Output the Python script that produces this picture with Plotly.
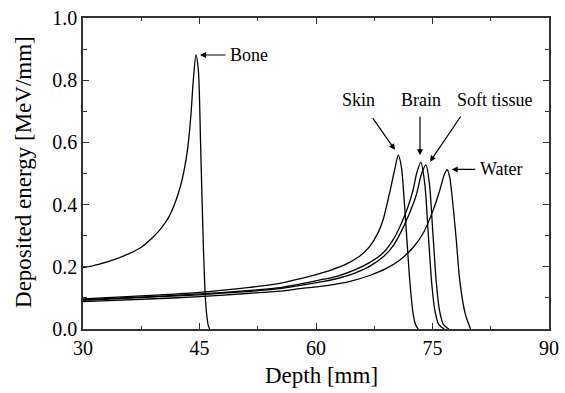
import plotly.graph_objects as go

# Data
bone_x = [30, 32, 34, 36, 37.5, 39, 40, 41, 41.8, 42.5, 43, 43.5, 43.9, 44.2, 44.55, 44.85, 45.15, 45.5, 45.8, 46.1, 46.3]
bone_y = [0.197, 0.208, 0.223, 0.243, 0.263, 0.295, 0.322, 0.358, 0.402, 0.455, 0.508, 0.585, 0.69, 0.8, 0.881, 0.833, 0.586, 0.265, 0.083, 0.015, 0.0]

skin_x = [30, 40, 45, 51.5, 55, 58, 60, 62, 64, 65.5, 66.9, 68, 68.65, 69.5, 70.15, 70.6, 71.0, 71.2, 71.65, 72.1, 72.5, 72.8, 73.15]
skin_y = [0.097, 0.11, 0.118, 0.134, 0.145, 0.162, 0.175, 0.19, 0.21, 0.232, 0.265, 0.31, 0.352, 0.44, 0.515, 0.559, 0.52, 0.468, 0.308, 0.147, 0.05, 0.015, 0.0]

brain_x = [30, 40, 45, 51.5, 55, 58, 61, 63, 65, 67, 68.65, 70, 70.8, 71.8, 72.5, 73.0, 73.5, 74.0, 74.45, 74.9, 75.3, 75.8, 76.5]
brain_y = [0.094, 0.106, 0.113, 0.124, 0.132, 0.145, 0.16, 0.172, 0.19, 0.215, 0.245, 0.29, 0.329, 0.39, 0.447, 0.505, 0.536, 0.468, 0.308, 0.147, 0.06, 0.015, 0.0]

soft_x = [30, 40, 45, 51.5, 55, 58, 61, 63, 65, 67, 68.65, 70, 70.8, 72.0, 72.9, 73.6, 74.15, 74.6, 75.05, 75.5, 75.9, 76.4, 77.1]
soft_y = [0.092, 0.104, 0.11, 0.121, 0.129, 0.14, 0.153, 0.164, 0.18, 0.203, 0.232, 0.27, 0.305, 0.37, 0.43, 0.5, 0.528, 0.468, 0.308, 0.147, 0.06, 0.015, 0.0]

water_x = [30, 40, 45, 51.5, 55, 58, 61.8, 64.4, 66.9, 69, 70.8, 72.5, 73.8, 75.1, 75.95, 76.5, 76.9, 77.2, 77.66, 78.1, 78.5, 79.2, 79.9]
water_y = [0.088, 0.098, 0.104, 0.115, 0.121, 0.13, 0.141, 0.153, 0.172, 0.194, 0.222, 0.262, 0.308, 0.383, 0.447, 0.495, 0.512, 0.49, 0.393, 0.275, 0.158, 0.05, 0.0]

x_ticks = [30, 45, 60, 75, 90]
y_ticks = [0.0, 0.2, 0.4, 0.6, 0.8, 1.0]
x_title = "Depth [mm]"
y_title = "Deposited energy [MeV/mm]"

# Labels: (text, text_x, text_y, anchor, arrow tail x, tail y, head x, head y)
labels = [
    ("Bone", 48.67, 0.881, "left", 48.54, 0.881, 45.06, 0.881),
    ("Skin", 65.53, 0.735, "center", 67.17, 0.683, 70.17, 0.576),
    ("Brain", 73.52, 0.735, "center", 73.39, 0.688, 73.39, 0.559),
    ("Soft tissue", 83.1, 0.735, "center", 78.76, 0.688, 74.68, 0.538),
    ("Water", 80.86, 0.513, "left", 80.69, 0.513, 77.47, 0.513),
]

FONT = "Times New Roman, Liberation Serif, serif"

fig = go.Figure()
for xs, ys, name in [(bone_x, bone_y, "Bone"), (skin_x, skin_y, "Skin"),
                     (brain_x, brain_y, "Brain"), (soft_x, soft_y, "Soft tissue"),
                     (water_x, water_y, "Water")]:
    fig.add_trace(go.Scatter(x=xs, y=ys, mode="lines", name=name,
                             line=dict(color="black", width=1.3, shape="spline", smoothing=0.8)))

annotations = []
for text, tx, ty, anchor, ax, ay, hx, hy in labels:
    annotations.append(dict(x=hx, y=hy, ax=ax, ay=ay, xref="x", yref="y", axref="x", ayref="y",
                            text="", showarrow=True, arrowhead=2, arrowsize=1, arrowwidth=1.2,
                            arrowcolor="black"))
    annotations.append(dict(x=tx, y=ty, xref="x", yref="y", text=text, showarrow=False,
                            xanchor=anchor, yanchor="middle",
                            font=dict(family=FONT, size=18, color="black")))

# Axis titles
annotations.append(dict(x=0.5118, y=-0.151, xref="paper", yref="paper", text=x_title,
                        showarrow=False, xanchor="center", yanchor="middle",
                        font=dict(family=FONT, size=23, color="black")))
annotations.append(dict(x=-0.1266, y=0.505, xref="paper", yref="paper", text=y_title,
                        showarrow=False, xanchor="center", yanchor="middle", textangle=-90,
                        font=dict(family=FONT, size=23, color="black")))

axis_common = dict(showline=True, linecolor="#333", linewidth=1.5, mirror="ticks",
                   ticks="inside", ticklen=6, tickwidth=1.2, tickcolor="#333",
                   showgrid=False, zeroline=False, automargin=False,
                   tickfont=dict(family=FONT, size=20, color="black"))

fig.update_layout(
    width=565, height=393,
    margin=dict(l=83, r=16, t=18, b=64),
    paper_bgcolor="white", plot_bgcolor="white",
    showlegend=False,
    annotations=annotations,
    xaxis=dict(range=[30, 90], tickvals=x_ticks, ticktext=[str(v) for v in x_ticks],
               minor=dict(ticks="inside", ticklen=3, tickwidth=1.2, tickcolor="#333", dtick=7.5),
               **axis_common),
    yaxis=dict(range=[0, 1.0], tickvals=y_ticks, ticktext=[f"{v:.1f}" for v in y_ticks],
               minor=dict(ticks="inside", ticklen=4, tickwidth=1.2, tickcolor="#333", dtick=0.1),
               **axis_common),
)

fig.write_html("out.html")
